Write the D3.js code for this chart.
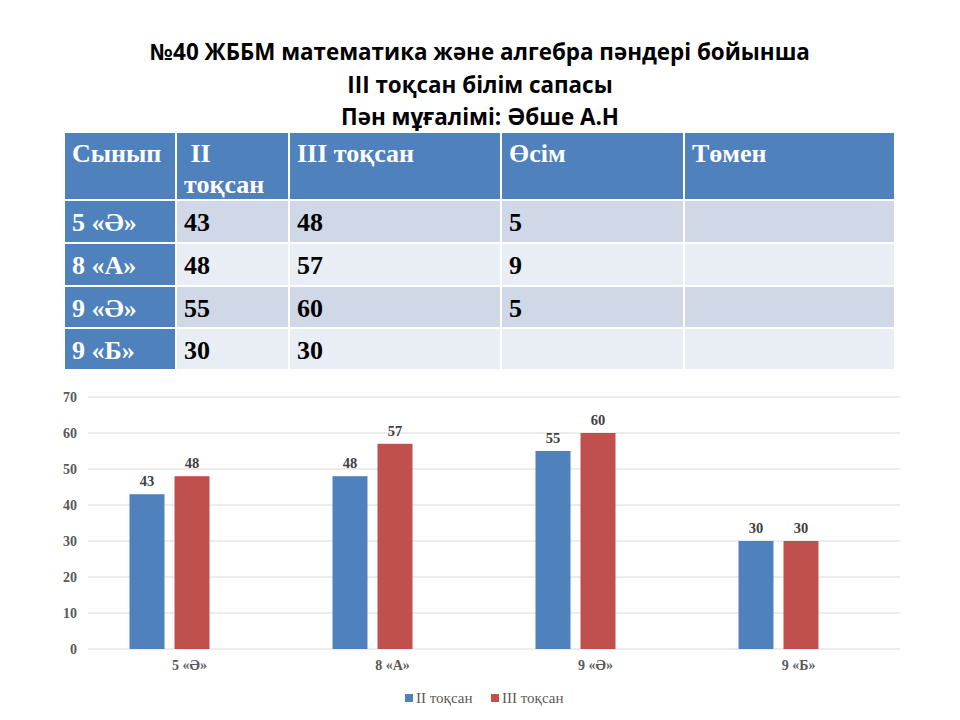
<!DOCTYPE html>
<html lang="kk">
<head>
<meta charset="utf-8">
<title>III тоқсан білім сапасы</title>
<script src="https://cdn.jsdelivr.net/npm/d3@7/dist/d3.min.js"></script>
<style>
body { margin: 0; background: #fff; }
svg { display: block; }
</style>
</head>
<body>
<script>
// data
var classes = ["5 «Ә»", "8 «А»", "9 «Ә»", "9 «Б»"];
var q2 = [43, 48, 55, 30];
var q3 = [48, 57, 60, 30];
var growth = ["5", "9", "5", ""];
var decline = ["", "", "", ""];
var seriesNames = ["II тоқсан", "III тоқсан"];
var yTicks = [0, 10, 20, 30, 40, 50, 60, 70];
var headers = ["Сынып", [" II", "тоқсан"], "III тоқсан", "Өсім", "Төмен"];
var titleLines = ["№40 ЖББМ математика және алгебра пәндері бойынша", "III тоқсан білім сапасы", "Пән мұғалімі: Әбше А.Н"];

var W = 960, H = 720;
var blue = "#4f81bd", red = "#c0504d";
var svg = d3.select("body").append("svg").attr("width", W).attr("height", H);

// title
svg.selectAll("text.title").data(titleLines).enter().append("text")
  .attr("class", "title")
  .attr("x", 480)
  .attr("y", function(d, i) { return 60 + i * 32.5; })
  .attr("text-anchor", "middle")
  .attr("font-family", "'Open Sans', sans-serif")
  .attr("font-weight", "bold")
  .attr("font-size", "22.4px")
  .attr("fill", "#000")
  .text(function(d) { return d; });

// table
var colX = [65, 177, 290, 502, 685, 896];
var rowY = [133, 201, 244, 287, 329, 371];
var gap = 2;
var tbl = svg.append("g");
var rows = [headers].concat(classes.map(function(c, i) {
  return [c, String(q2[i]), String(q3[i]), growth[i], decline[i]];
}));
rows.forEach(function(r, ri) {
  r.forEach(function(cell, ci) {
    var fill;
    if (ri === 0 || ci === 0) fill = blue;
    else fill = (ri % 2 === 1) ? "#d0d8e8" : "#e9edf4";
    tbl.append("rect")
      .attr("x", colX[ci])
      .attr("y", rowY[ri])
      .attr("width", colX[ci + 1] - colX[ci] - gap)
      .attr("height", rowY[ri + 1] - rowY[ri] - gap)
      .attr("fill", fill);
    var lines = Array.isArray(cell) ? cell : [cell];
    var t = tbl.append("text")
      .attr("font-family", "'Liberation Serif', serif")
      .attr("font-weight", "bold")
      .attr("font-size", "26px")
      .attr("fill", (ri === 0 || ci === 0) ? "#fff" : "#000")
      .attr("xml:space", "preserve");
    lines.forEach(function(l, li) {
      t.append("tspan")
        .attr("x", colX[ci] + 7)
        .attr("y", (ri === 0 ? 162 : rowY[ri] + 30) + li * 31)
        .text(l);
    });
  });
});

// bar chart
var y0 = 649, y1 = 397;
var plotL = 88, plotR = 900;
var y = d3.scaleLinear().domain([0, 70]).range([y0, y1]);
var x = d3.scaleBand().domain(classes).range([plotL, plotR]);
var barOffset = -20; // bars sit left of the category label
var barW = 35, barGap = 10;

var chart = svg.append("g");
chart.selectAll("line.grid").data(yTicks).enter().append("line")
  .attr("x1", plotL).attr("x2", plotR)
  .attr("y1", function(d) { return y(d); })
  .attr("y2", function(d) { return y(d); })
  .attr("stroke", "#d9d9d9").attr("stroke-width", 1);

var yAxis = d3.axisLeft(y).tickValues(yTicks).tickSize(0).tickPadding(0);
var ya = chart.append("g").attr("transform", "translate(77,0)").call(yAxis);
ya.select(".domain").remove();
ya.selectAll("text")
  .attr("font-family", "'Liberation Serif', serif")
  .attr("font-weight", "bold")
  .attr("font-size", "14px")
  .attr("fill", "#595959");

var xAxis = d3.axisBottom(x).tickSize(0).tickPadding(0);
var xa = chart.append("g").attr("transform", "translate(0," + (y0 + 11) + ")").call(xAxis);
xa.select(".domain").remove();
xa.selectAll("text")
  .attr("font-family", "'Liberation Serif', serif")
  .attr("font-weight", "bold")
  .attr("font-size", "14px")
  .attr("fill", "#595959");

var series = [q2, q3];
var colors = [blue, red];
series.forEach(function(s, si) {
  var bx = function(d, i) {
    var c = x(classes[i]) + x.bandwidth() / 2 + barOffset;
    return si === 0 ? c - barGap / 2 - barW : c + barGap / 2;
  };
  chart.selectAll("rect.s" + si).data(s).enter().append("rect")
    .attr("class", "s" + si)
    .attr("x", bx)
    .attr("y", function(d) { return y(d); })
    .attr("width", barW)
    .attr("height", function(d) { return y0 - y(d); })
    .attr("fill", colors[si]);
  chart.selectAll("text.l" + si).data(s).enter().append("text")
    .attr("class", "l" + si)
    .attr("x", function(d, i) { return bx(d, i) + barW / 2; })
    .attr("y", function(d) { return y(d) - 8; })
    .attr("text-anchor", "middle")
    .attr("font-family", "'Liberation Serif', serif")
    .attr("font-weight", "bold")
    .attr("font-size", "14.5px")
    .attr("fill", "#404040")
    .text(function(d) { return d; });
});

// legend
var legX = [405, 491];
var leg = chart.selectAll("g.leg").data(seriesNames).enter().append("g")
  .attr("class", "leg")
  .attr("transform", function(d, i) { return "translate(" + legX[i] + ",694)"; });
leg.append("rect").attr("width", 8).attr("height", 8)
  .attr("fill", function(d, i) { return colors[i]; });
leg.append("text")
  .attr("x", 11).attr("y", 9)
  .attr("font-family", "'Liberation Serif', serif")
  .attr("font-size", "15px")
  .attr("fill", "#595959")
  .text(function(d) { return d; });
</script>
</body>
</html>
